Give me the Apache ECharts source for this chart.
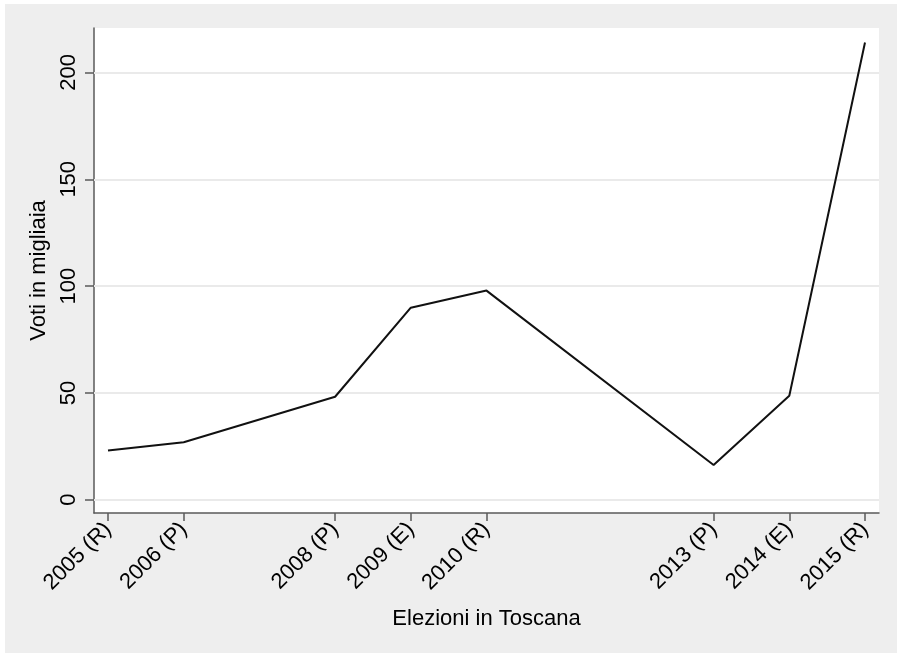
<!DOCTYPE html>
<html>
<head>
<meta charset="utf-8">
<script src="https://cdn.jsdelivr.net/npm/echarts@6/dist/echarts.min.js"></script>
<style>
  html, body { margin: 0; padding: 0; background: #ffffff; width: 897px; height: 653px; overflow: hidden; }
  #chart { position: absolute; left: 5px; top: 4px; width: 892px; height: 649px; }
</style>
</head>
<body>
<div id="chart"></div>
<script>
const years = [2005, 2006, 2008, 2009, 2010, 2013, 2014, 2015];
const electionTypes = ['R', 'P', 'P', 'E', 'R', 'P', 'E', 'R'];
const votes = [23.1, 26.9, 48.2, 89.9, 97.9, 16.3, 48.7, 214.0];
const yTicks = [0, 50, 100, 150, 200];

const tickLabels = {};
years.forEach((y, i) => { tickLabels[y] = y + ' (' + electionTypes[i] + ')'; });

const font = '"Liberation Sans", Arial, Helvetica, sans-serif';
const chart = echarts.init(document.getElementById('chart'), null, { renderer: 'canvas' });

chart.setOption({
  backgroundColor: '#eeeeee',
  animation: false,
  grid: { left: 89, right: 18, top: 24, bottom: 140, show: true, backgroundColor: '#ffffff', borderWidth: 0 },
  xAxis: {
    type: 'value',
    min: 2004.815,
    max: 2015.185,
    name: 'Elezioni in Toscana',
    nameLocation: 'middle',
    nameGap: 95,
    nameTextStyle: { fontFamily: font, fontSize: 22, color: '#000' },
    axisLine: { show: true, onZero: false, lineStyle: { color: '#5a5a5a', width: 1.5 } },
    axisTick: { show: true, length: 8, customValues: years, lineStyle: { color: '#5a5a5a', width: 1.5 } },
    axisLabel: {
      customValues: years,
      rotate: 45,
      margin: 13,
      fontFamily: font, fontSize: 22, color: '#000',
      formatter: v => tickLabels[v] || ''
    },
    splitLine: { show: false }
  },
  yAxis: {
    type: 'value',
    min: -6.2,
    max: 220.8,
    name: 'Voti in migliaia',
    nameLocation: 'middle',
    nameGap: 40,
    nameRotate: 90,
    nameTextStyle: { fontFamily: font, fontSize: 22, color: '#000' },
    axisLine: { show: true, onZero: false, lineStyle: { color: '#5a5a5a', width: 1.5 } },
    axisTick: { show: true, length: 9, customValues: yTicks, lineStyle: { color: '#5a5a5a', width: 1.5 } },
    axisLabel: {
      customValues: yTicks,
      rotate: 90,
      margin: 14,
      fontFamily: font, fontSize: 22, color: '#000'
    },
    splitLine: { show: false }
  },
  series: [
    {
      type: 'line',
      data: [],
      z: 1,
      silent: true,
      markLine: {
        silent: true,
        symbol: 'none',
        label: { show: false },
        lineStyle: { color: '#eaeaea', width: 2, type: 'solid' },
        data: yTicks.map(v => ({ yAxis: v }))
      }
    },
    {
      type: 'line',
      data: years.map((y, i) => [y, votes[i]]),
      showSymbol: false,
      symbol: 'none',
      lineStyle: { color: '#111', width: 2 },
      z: 5
    }
  ]
});
</script>
</body>
</html>
